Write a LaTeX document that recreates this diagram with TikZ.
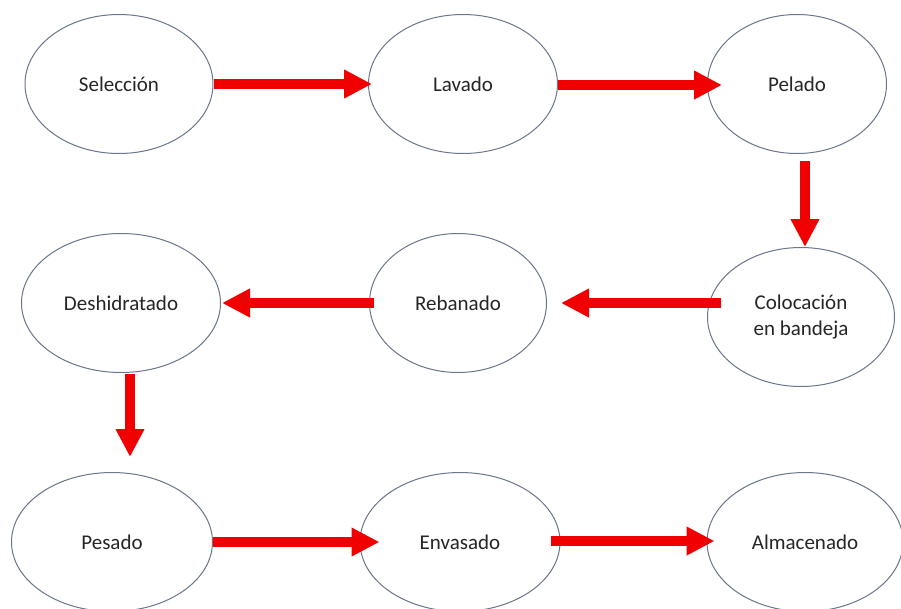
\documentclass[tikz,border=0pt]{standalone}
\usepackage{fontspec}
\setmainfont{Carlito}
\usetikzlibrary{shapes.geometric,arrows.meta,calc}
\definecolor{edgec}{RGB}{105,118,140}
\definecolor{arrowred}{RGB}{240,0,0}
\begin{document}
\begin{tikzpicture}[x=1pt,y=-1pt,
  stage/.style={ellipse,draw=edgec,line width=1pt,fill=white,inner sep=0pt,
    minimum width=#1,minimum height=139pt,align=center,
    font=\fontsize{21}{25.5}\selectfont,text=black!85},
  stage/.default=188pt,
  blockarrow/.style={draw=arrowred,line width=9.5pt,
    -{Triangle[length=28pt,width=27pt]}}]
\useasboundingbox (0,0) rectangle (901,608);
\fill[white] (0,0) rectangle (901,608);
% row 1
\node[stage=188pt] (sel) at (119,84) {Selección};
\node[stage=189pt] (lav) at (463,84) {Lavado};
\node[stage=179pt] (pel) at (797,84) {Pelado};
% row 2
\node[stage=199pt] (des) at (121,303) {Deshidratado};
\node[stage=177pt] (reb) at (458,303) {Rebanado};
\node[stage=187pt] (col) at (801,317) {Colocación\\en bandeja};
% row 3
\node[stage=201pt] (pes) at (112,542) {Pesado};
\node[stage=200pt] (env) at (460,542) {Envasado};
\node[stage=196pt] (alm) at (805,542) {Almacenado};
% connectors
\draw[blockarrow] (sel.east) -- ($(lav.west)+(4,0)$);
\draw[blockarrow] ($(lav.east)+(0,1)$) -- ($(pel.west)+(15,1)$);
\draw[blockarrow] ($(pel.south)+(8,7)$) -- ($(col.north)+(4,0)$);
\draw[blockarrow] ($(col.west)+(14,-14)$) -- ($(reb.east)+(14,0)$);
\draw[blockarrow] ($(reb.west)+(5,0)$) -- ($(des.east)+(1,0)$);
\draw[blockarrow] ($(des.south)+(9,1)$) -- ($(pes.north)+(18,-15)$);
\draw[blockarrow] (pes.east) -- ($(env.west)+(20,0)$);
\draw[blockarrow] ($(env.east)+(-10,-1)$) -- ($(alm.west)+(8,-1)$);
\end{tikzpicture}
\end{document}
